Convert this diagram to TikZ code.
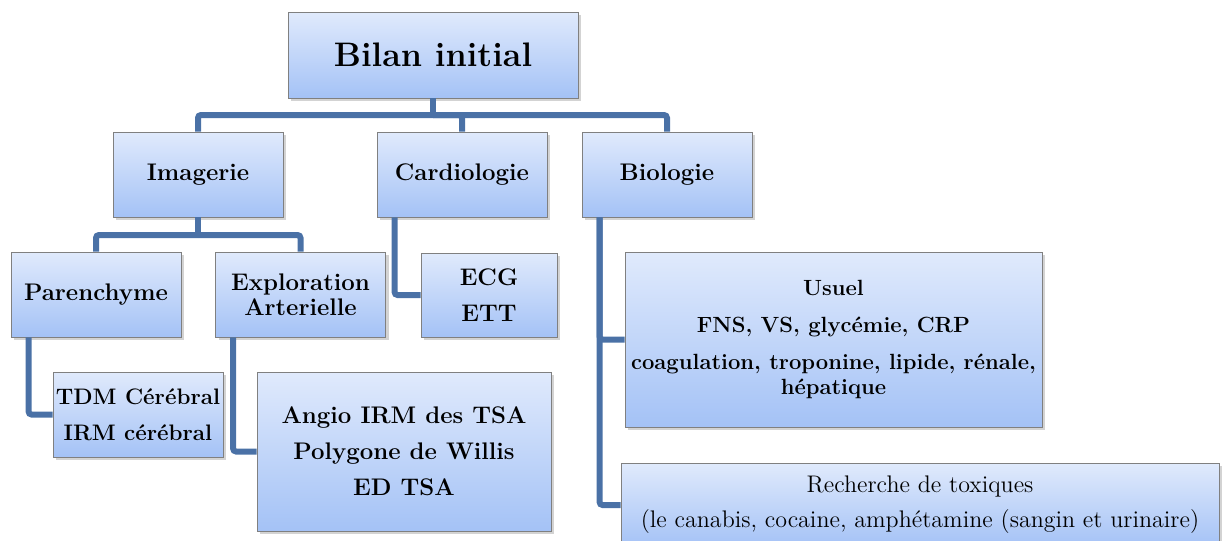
\documentclass[tikz,border=0pt]{standalone}
\usepackage{tikz}
\usetikzlibrary{calc}
\usetikzlibrary{positioning}
\usetikzlibrary{shadows}
\definecolor{boxtop}{RGB}{224,234,252}
\definecolor{boxbot}{RGB}{164,194,246}
\definecolor{boxline}{RGB}{128,128,128}
\definecolor{link}{RGB}{74,113,166}

\begin{document}
\begin{tikzpicture}[x=0.5pt, y=-0.5pt,
	b/.style = {rectangle, draw=boxline, thin, top color=boxtop, bottom color=boxbot,
		drop shadow={opacity=0.35, shadow xshift=1.5pt, shadow yshift=-1.5pt},
		align=center, inner sep=1pt, font=\fontsize{12}{12.5}\selectfont\bfseries},
	sm/.style = {minimum width=85pt, minimum height=42.5pt},
	l/.style = {draw=link, line width=3pt, rounded corners=1.5pt}
	]
	\useasboundingbox (0,0) rectangle (1228,541);
	
	% === === Nodes === ===
	\node[b, minimum width=145pt, minimum height=43pt, font=\fontsize{17}{20}\selectfont\bfseries]
		(title)	at	(433, 55)	{Bilan initial};
	
	\node[b, sm]	(imag)	at	(198, 174.5)	{Imagerie};
	\node[b, sm]	(cardio)	at	(462, 174.5)	{Cardiologie};
	\node[b, sm]	(bio)	at	(667, 174.5)	{Biologie};
	
	\node[b, sm]	(paren)	at	(96, 294.5)	{Parenchyme};
	\node[b, sm]	(explo)	at	(300.5, 294.5)	{Exploration\\Arterielle};
	\node[b, minimum width=68pt, minimum height=42pt]
		(ecg)	at	(489, 295)	{ECG\\[5.5pt]ETT};
	
	\node[b, sm, font=\fontsize{11.2}{12.5}\selectfont\bfseries]
		(tdm)	at	(138, 414.5)	{TDM C\'er\'ebral\\[5.5pt]IRM c\'er\'ebral};
	\node[b, minimum width=147pt, minimum height=79.5pt]
		(angio)	at	(404, 451.5)	{Angio IRM des TSA\\[5.5pt]Polygone de Willis\\[5.5pt]ED TSA};
	\node[b, minimum width=208.5pt, minimum height=87.5pt, font=\fontsize{11}{12.5}\selectfont\bfseries]
		(usuel)	at	(833.5, 339.5)	{Usuel\\[6pt]FNS, VS, glyc\'emie, CRP\\[6pt]coagulation, troponine, lipide, r\'enale,\\h\'epatique};
	\node[b, minimum width=299pt, minimum height=42pt, font=\fontsize{12}{12.5}\selectfont]
		(tox)	at	(920, 505)	{Recherche de toxiques\\[5pt](le canabis, cocaine, amph\'etamine (sangin et urinaire)};
	
	% === === Lines === ===
	\coordinate	(bus1)	at	(433, 115);
	\coordinate	(bus2)	at	(198, 235);
	\draw[l]	(title.south)	--	(bus1);
	\draw[l]	(bus1)	-|	(imag.north);
	\draw[l]	(bus1)	-|	(cardio.north);
	\draw[l]	(bus1)	-|	(bio.north);
	\draw[l]	(imag.south)	--	(bus2);
	\draw[l]	(bus2)	-|	(paren.north);
	\draw[l]	(bus2)	-|	(explo.north);
	\draw[l]	([xshift=9pt]cardio.south west)	|-	(ecg.west);
	\draw[l]	([xshift=9pt]bio.south west)	|-	(usuel.west);
	\draw[l]	([xshift=9pt]bio.south west)	|-	(tox.west);
	\draw[l]	([xshift=9pt]paren.south west)	|-	(tdm.west);
	\draw[l]	([xshift=9pt]explo.south west)	|-	(angio.west);
	
\end{tikzpicture}
\end{document}
